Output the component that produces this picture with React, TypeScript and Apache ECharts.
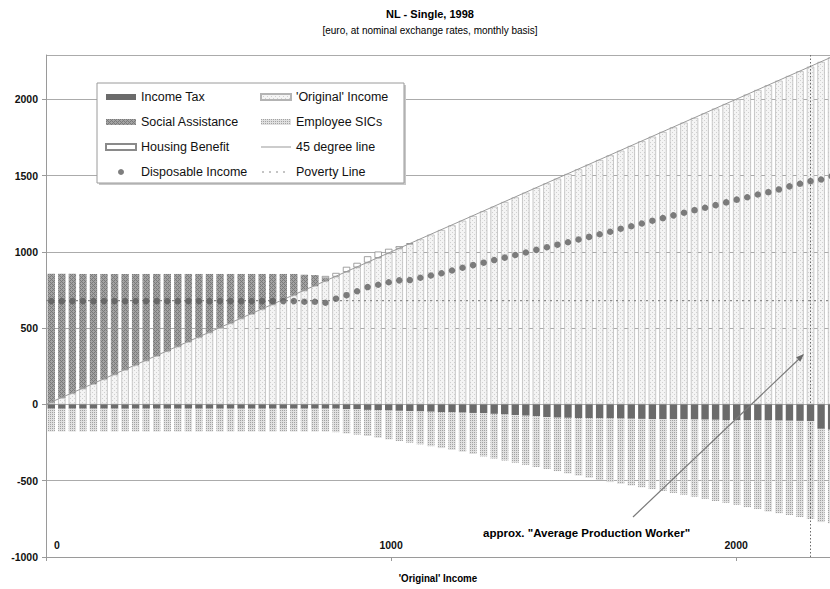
import React, { useEffect, useRef } from "react";
import * as echarts from "echarts";

// ---- data ----
const incomes = [
  11, 42, 72, 103, 133, 164, 195, 225, 256, 286, 317, 348, 378, 409, 439, 470, 501, 531, 562, 592,
  623, 654, 684, 715, 745, 776, 807, 837, 868, 898, 929, 960, 990, 1021, 1051, 1082, 1113, 1143, 1174, 1204,
  1235, 1266, 1296, 1327, 1357, 1388, 1419, 1449, 1480, 1510, 1541, 1572, 1602, 1633, 1663, 1694, 1725, 1755, 1786, 1816,
  1847, 1878, 1908, 1939, 1969, 2000, 2031, 2061, 2092, 2122, 2153, 2184, 2214, 2245, 2275,
];
const originalIncome = incomes;
const socialAssistance = [
  846, 815, 785, 752, 722, 691, 660, 630, 599, 569, 538, 507, 477, 446, 416, 385, 354, 324, 293, 263,
  232, 201, 171, 140, 105, 72, 20,
];
const housingBenefit = [
  0, 0, 0, 0, 0, 0, 0, 0, 0, 0, 0, 0, 0, 0, 0, 0, 0, 0, 0, 0,
  0, 0, 0, 0, 0, 0, 15, 25, 34, 30, 42, 42, 30, 16, 5,
];
const incomeTax = [
  -28, -28, -28, -28, -28, -28, -28, -28, -28, -28, -28, -28, -28, -28, -28, -28, -28, -28, -28, -28,
  -28, -28, -28, -28, -28, -28, -28, -28, -30, -32, -36, -38, -40, -42, -44, -46, -48, -50, -52, -54,
  -56, -58, -62, -66, -70, -74, -78, -83, -87, -88, -89, -90, -91, -92, -93, -94, -95, -96, -97, -97,
  -98, -99, -100, -101, -102, -103, -104, -104, -105, -106, -107, -108, -109, -160, -166,
];
const employeeSICs = [
  -150, -150, -150, -150, -150, -150, -150, -150, -150, -150, -150, -150, -150, -150, -150, -150, -150, -150, -150, -150,
  -150, -150, -150, -150, -150, -150, -150, -154, -160, -166, -171, -180, -189, -198, -207, -216, -226, -236, -246, -256,
  -269, -283, -293, -302, -312, -322, -332, -340, -350, -364, -377, -390, -404, -417, -427, -437, -448, -459, -470, -483,
  -494, -506, -519, -532, -543, -555, -569, -581, -596, -607, -617, -630, -642, -611, -613,
];
const disposableIncome = [
  677, 677, 677, 677, 677, 677, 677, 677, 677, 677, 677, 677, 677, 677, 677, 677, 677, 677, 677, 677,
  677, 677, 677, 677, 673, 673, 666, 693, 716, 742, 769, 784, 801, 813, 815, 830, 845, 860, 878, 896,
  913, 929, 946, 962, 979, 996, 1013, 1030, 1047, 1063, 1081, 1098, 1115, 1132, 1151, 1168, 1186, 1204, 1221, 1239,
  1256, 1273, 1289, 1306, 1324, 1342, 1358, 1376, 1391, 1409, 1429, 1446, 1463, 1474, 1496,
];
const degreeLineEnds = [0, 2292];
const povertyLine = 680;
const apwIncome = 2214;
const xTicks = { min: 0, max: 2292, interval: 1000 };
const yTicks = { min: -1000, max: 2290, interval: 500 };

const FONT = "'Liberation Sans', Arial, sans-serif";

function makePattern(bg: string, fg: string, cells: number[][], size = 4) {
  const c = document.createElement("canvas");
  c.width = size;
  c.height = size;
  const ctx = c.getContext("2d")!;
  ctx.fillStyle = bg;
  ctx.fillRect(0, 0, size, size);
  ctx.fillStyle = fg;
  cells.forEach(([x, y]) => ctx.fillRect(x, y, 1, 1));
  return { image: c, repeat: "repeat", imageWidth: size, imageHeight: size } as any;
}

const nz = (vals: number[]) => incomes.map((_, i) => (vals[i] == null || vals[i] === 0 ? null : vals[i]));

// thin line / dashed line legend icons (path bbox kept 30x6)
const ICON_LINE = "path://M0,2.5h30v1h-30z M0,0h0.01v0.01h-0.01z M0,5.99h0.01v0.01h-0.01z";
const ICON_DOTS =
  "path://M1,2.4h2v1.2h-2z M8,2.4h2v1.2h-2z M15,2.4h2v1.2h-2z M22,2.4h2v1.2h-2z M0,0h0.01v0.01h-0.01z M29.99,5.99h0.01v0.01h-0.01z";

export default function App() {
  const ref = useRef<HTMLDivElement>(null);

  useEffect(() => {
    if (!ref.current) return;
    const chart = echarts.init(ref.current, undefined, { renderer: "svg" });

    const origPat = makePattern("#f4f4f4", "#d0d0d0", [[0, 0], [2, 2]]);
    const saPat = makePattern("#a2a2a2", "#7a7a7a", [[0, 0], [1, 1], [2, 2], [3, 3], [0, 2], [2, 0]]);
    const sicPat = makePattern("#e0e0e0", "#a2a2a2", [[0, 0], [2, 2], [0, 2], [2, 0]]);

    const barCommon = { type: "bar", stack: "s", barWidth: 7.4, z: 2, xAxisIndex: 0 };
    const txt = { fontFamily: FONT, color: "#111" };
    const legendText = { ...txt, fontSize: 12.5, lineHeight: 14 };

    chart.setOption({
      animation: false,
      textStyle: { fontFamily: FONT },
      grid: { left: 46, right: 43.1, top: 55, bottom: 32 },
      xAxis: [
        {
          type: "category",
          data: incomes.map(String),
          position: "bottom",
          boundaryGap: true,
          axisLine: { show: false },
          axisTick: { show: false },
          axisLabel: { show: false },
          splitLine: { show: false },
        },
        {
          type: "value",
          position: "bottom",
          min: xTicks.min,
          max: xTicks.max,
          interval: xTicks.interval,
          axisLine: { show: true, onZero: false, lineStyle: { color: "#9a9a9a", width: 1 } },
          axisTick: { show: true, length: 4, lineStyle: { color: "#9a9a9a" } },
          axisLabel: {
            inside: true,
            margin: 7,
            ...txt,
            fontSize: 10.5,
            fontWeight: "bold",
            showMaxLabel: false,
            formatter: (v: number) => (v === 0 ? "{z|0}" : String(v)),
            rich: { z: { padding: [0, 0, 0, 22], fontSize: 10.5, fontWeight: "bold", fontFamily: FONT, color: "#111" } },
          },
          splitLine: { show: false },
        },
      ],
      yAxis: {
        type: "value",
        min: yTicks.min,
        max: yTicks.max,
        interval: yTicks.interval,
        axisLine: { show: true, lineStyle: { color: "#9a9a9a", width: 1 } },
        axisTick: { show: true, length: 4, lineStyle: { color: "#9a9a9a" } },
        axisLabel: { margin: 8, ...txt, fontSize: 10.5, fontWeight: "bold", showMaxLabel: false, formatter: (v: number) => String(v) },
        splitLine: { show: true, lineStyle: { color: "#ababab", width: 1 } },
      },
      legend: [
        {
          data: [
            { name: "Income Tax", icon: "rect" },
            { name: "Social Assistance", icon: "rect" },
            { name: "Housing Benefit", icon: "rect" },
            { name: "Disposable Income", icon: "circle" },
          ],
          orient: "vertical",
          left: 105,
          top: 90,
          padding: 0,
          itemWidth: 30,
          itemHeight: 6,
          itemGap: 11,
          selectedMode: false,
          z: 20,
          textStyle: legendText,
        },
        {
          data: [
            { name: "'Original' Income", icon: "rect" },
            { name: "Employee SICs", icon: "rect" },
            { name: "45 degree line", icon: ICON_LINE },
            { name: "Poverty Line", icon: ICON_DOTS },
          ],
          orient: "vertical",
          left: 260,
          top: 90,
          padding: 0,
          itemWidth: 30,
          itemHeight: 6,
          itemGap: 11,
          selectedMode: false,
          z: 20,
          textStyle: legendText,
        },
      ],
      graphic: [
        { type: "rect", z: 10, shape: { x: 99, y: 85, width: 307, height: 100 }, style: { fill: "#c8c8c8" } },
        { type: "rect", z: 11, shape: { x: 97, y: 83, width: 307, height: 100 }, style: { fill: "#fff", stroke: "#9a9a9a", lineWidth: 1 } },
        { type: "text", x: 430, y: 8, z: 20, style: { text: "NL - Single, 1998", fontFamily: FONT, fontSize: 11, fontWeight: "bold", fill: "#000", align: "center" } },
        { type: "text", x: 430, y: 25, z: 20, style: { text: "[euro, at nominal exchange rates, monthly basis]", fontFamily: FONT, fontSize: 10, fill: "#000", align: "center" } },
        { type: "text", x: 438, y: 572, z: 20, scaleX: 0.85, originX: 0, originY: 0, style: { text: "'Original' Income", fontFamily: FONT, fontSize: 11.5, fontWeight: "bold", fill: "#000", align: "center" } },
        { type: "text", x: 483, y: 527, z: 20, style: { text: 'approx. "Average Production Worker"', fontFamily: FONT, fontSize: 11.5, fontWeight: "bold", fill: "#000" } },
        { type: "line", z: 20, shape: { x1: 633, y1: 517, x2: 799, y2: 359 }, style: { stroke: "#7a7a7a", lineWidth: 1.2 } },
        { type: "polygon", z: 20, shape: { points: [[804, 354], [800.3, 361.7], [796.1, 357.3]] }, style: { fill: "#6a6a6a" } },
      ],
      series: [
        {
          ...barCommon,
          name: "'Original' Income",
          data: originalIncome,
          itemStyle: { color: origPat, borderColor: "#b3b3b3", borderWidth: 0.7 },
        },
        {
          ...barCommon,
          name: "Income Tax",
          data: incomeTax,
          itemStyle: { color: "#6b6b6b" },
        },
        {
          ...barCommon,
          name: "Social Assistance",
          data: nz(socialAssistance),
          itemStyle: { color: saPat },
        },
        {
          ...barCommon,
          name: "Employee SICs",
          data: employeeSICs,
          itemStyle: { color: sicPat },
        },
        {
          ...barCommon,
          name: "Housing Benefit",
          data: nz(housingBenefit),
          itemStyle: { color: "#ffffff", borderColor: "#8a8a8a", borderWidth: 0.8 },
        },
        {
          type: "line",
          name: "45 degree line",
          xAxisIndex: 1,
          data: degreeLineEnds.map((v) => [v, v]),
          symbol: "none",
          z: 3,
          lineStyle: { color: "#9a9a9a", width: 1 },
          itemStyle: { color: "#9a9a9a" },
        },
        {
          type: "line",
          name: "Poverty Line",
          xAxisIndex: 1,
          data: [[xTicks.min, povertyLine], [xTicks.max, povertyLine]],
          symbol: "none",
          z: 3,
          lineStyle: { color: "#8a8a8a", width: 1.2, type: [2, 4] },
          itemStyle: { color: "#8a8a8a" },
        },
        {
          type: "scatter",
          name: "Disposable Income",
          xAxisIndex: 0,
          data: disposableIncome,
          symbol: "circle",
          symbolSize: 6.5,
          z: 4,
          itemStyle: { color: "#5e5e5e" },
          markLine: {
            silent: true,
            symbol: ["none", "none"],
            label: { show: false },
            lineStyle: { color: "#6a6a6a", width: 1, type: [1.5, 2] },
            data: [{ xAxis: String(apwIncome) }],
          },
        },
      ],
    });

    return () => chart.dispose();
  }, []);

  return (
    <div style={{ position: "absolute", left: 0, top: 0, width: 830, height: 589, overflow: "hidden", background: "#fff" }}>
      <div ref={ref} style={{ width: 880, height: 589 }} />
    </div>
  );
}
